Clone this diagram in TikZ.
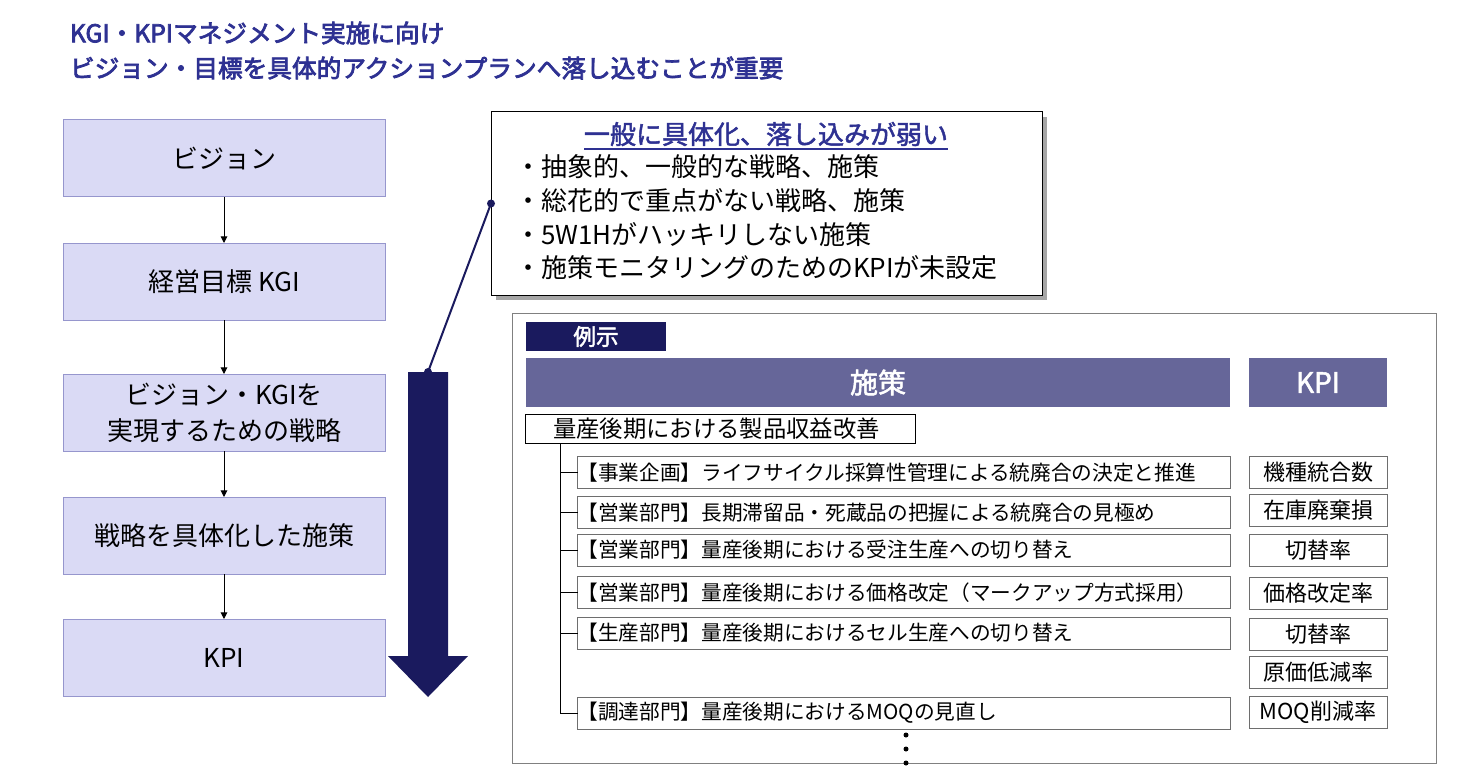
\documentclass[tikz,border=0pt]{standalone}
\usepackage{fontspec}
\setmainfont{Noto Sans CJK JP}
\newfontfamily\jpsb{Noto Sans CJK JP}[FakeBold=3]
\newfontfamily\jpmb{Noto Sans CJK JP}[FakeBold=1.8]
\usetikzlibrary{arrows.meta,shadows,calc}
\newcommand\fsz[2][1.2]{\fontsize{#2}{#1\dimexpr #2\relax}\selectfont}
\definecolor{ttl}{RGB}{46,49,146}
\definecolor{navy}{RGB}{26,26,94}
\definecolor{hdr}{RGB}{102,102,153}
\definecolor{lav}{RGB}{218,218,245}
\definecolor{lavb}{RGB}{150,150,205}
\definecolor{gry}{RGB}{128,128,128}
\definecolor{cellb}{RGB}{110,110,110}
\begin{document}
\begin{tikzpicture}[x=0.75pt,y=-0.75pt,
  every node/.style={inner sep=0pt, outer sep=0pt},
  wh/.style 2 args={minimum width=#1*0.75pt, minimum height=#2*0.75pt},
  lbox/.style={draw=lavb, fill=lav, line width=0.75pt, align=center, font=\fontsize{19.5pt}{27pt}\selectfont, wh={322}{77}},
  flow/.style={-{Triangle[length=5pt,width=5pt]}, line width=0.75pt},
  ttltext/.style={anchor=west, text=ttl, font=\fsz{18.5pt}\jpsb},
  bullet/.style={anchor=west, font=\fsz{19.5pt}},
  hbox/.style={fill=hdr, text=white, font=\fsz{21pt}\jpmb},
  item/.style={draw=cellb, line width=0.75pt, minimum height=32*0.75pt, text width=653*0.75pt, align=left, font=\fsz{15.5pt}},
  kcell/.style={draw=cellb, line width=0.75pt, wh={138}{32}, font=\fsz{16.5pt}},
  tree/.style={line width=0.75pt, draw=black},
  dotm/.style={circle, fill=black, minimum size=5*0.75pt}
]
\useasboundingbox (0,0) rectangle (1483,784);

% title
\node[ttltext] (t1) at (70,33) {KGI・KPIマネジメント実施に向け};
\node[ttltext] (t2) at (70,68) {ビジョン・目標を具体的アクションプランへ落し込むことが重要};

% left flow
\node[lbox] (b1) at (224,158.5) {ビジョン};
\node[lbox] (b2) at (224,281.5) {経営目標 KGI};
\node[lbox] (b3) at (224,412.5) {ビジョン・KGIを\\実現するための戦略};
\node[lbox] (b4) at (224,535.5) {戦略を具体化した施策};
\node[lbox] (b5) at (224,657.5) {KPI};
\draw[flow] (b1) -- (b2);
\draw[flow] (b2) -- (b3);
\draw[flow] (b3) -- (b4);
\draw[flow] (b4) -- (b5);

% big arrow
\coordinate (ba) at (428,372);
\fill[navy] (408,372) -- (448,372) -- (448,656) -- (468,656) -- (428,697) -- (388,656) -- (408,656) -- cycle;

% callout
\node[draw=black, fill=white, line width=0.75pt, wh={551}{183},
      drop shadow={shadow xshift=3.5pt, shadow yshift=-3.5pt, fill=gray!70, opacity=1}] (cb) at (766.5,203.5) {};
\node[text=ttl, font=\fsz{19.5pt}\jpmb] (ct) at (766,134) {一般に具体化、落し込みが弱い};
\draw[ttl, line width=0.9pt] ($(ct.south west)+(0,3)$) -- ($(ct.south east)+(0,3)$);
\node[bullet] (c1) at (515,167) {・抽象的、一般的な戦略、施策};
\node[bullet] (c2) at (515,201) {・総花的で重点がない戦略、施策};
\node[bullet] (c3) at (515,235) {・5W1Hがハッキリしない施策};
\node[bullet] (c4) at (515,268) {・施策モニタリングのためのKPIが未設定};
\draw[navy, line width=1.5pt] (ba) -- (cb.west);
\fill[navy] (ba) circle (3pt);
\fill[navy] (cb.west) circle (3pt);

% example frame
\node[draw=gry, line width=0.75pt, wh={924}{450}] (ex) at (974,538) {};
\node[fill=navy, text=white, wh={140}{29}, font=\fsz{17pt}\jpmb] (lbl) at (596,336.5) {例示};
\node[hbox, wh={704}{49}] (h1) at (878,382.5) {施策};
\node[hbox, wh={138}{49}] (h2) at (1318,382.5) {KPI};

\node[draw=black, line width=0.75pt, minimum height=29*0.75pt, text width=334*0.75pt, inner xsep=28*0.75pt, align=left, font=\fsz{17.5pt}] (q) at (720,428.5) {量産後期における製品収益改善};

\node[item] (i1) at (904,472.5) {【事業企画】ライフサイクル採算性管理による統廃合の決定と推進};
\node[item] (i2) at (904,512.5) {【営業部門】長期滞留品・死蔵品の把握による統廃合の見極め};
\node[item] (i3) at (904,550) {【営業部門】量産後期における受注生産への切り替え};
\node[item] (i4) at (904,592.5) {【営業部門】量産後期における価格改定（マークアップ方式採用）};
\node[item] (i5) at (904,633) {【生産部門】量産後期におけるセル生産への切り替え};
\node[item] (i6) at (904,713) {【調達部門】量産後期におけるMOQの見直し};

\node[kcell] (k1) at (1318,472.5) {機種統合数};
\node[kcell] (k2) at (1318,510) {在庫廃棄損};
\node[kcell] (k3) at (1318,550) {切替率};
\node[kcell] (k4) at (1318,593) {価格改定率};
\node[kcell] (k5) at (1318,634) {切替率};
\node[kcell] (k6) at (1318,672) {原価低減率};
\node[kcell] (k7) at (1318,712) {MOQ削減率};

\coordinate (tr) at ($(q.south west)+(35,0)$);
\draw[tree] (tr) -- (tr |- i6.west) -- (i6.west);
\foreach \n in {i1,i2,i3,i4,i5} \draw[tree] (tr |- \n.west) -- (\n.west);

\node[dotm] (d1) at (906,735) {};
\node[dotm] (d2) at (906,749) {};
\node[dotm] (d3) at (906,763) {};
\end{tikzpicture}
\end{document}
